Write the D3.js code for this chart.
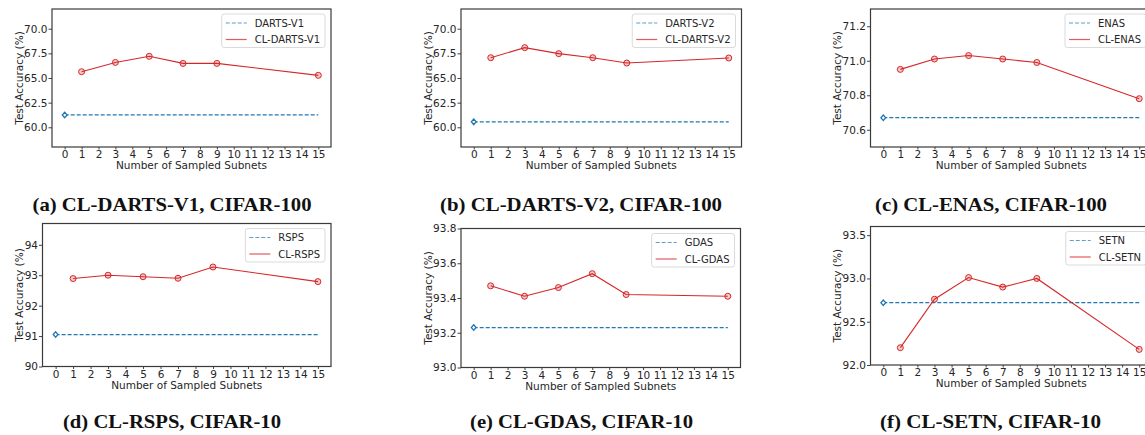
<!DOCTYPE html>
<html>
<head>
<meta charset="utf-8">
<script src="https://cdn.jsdelivr.net/npm/d3@7"></script>
<style>
  body { margin: 0; background: #fff; }
  svg { display: block; }
  .tick text { font-family: "DejaVu Sans", sans-serif; font-size: 10.5px; fill: #262626; }
  .tick line { stroke: #444; }
  .domain { display: none; }
</style>
</head>
<body>
<main></main>
<script>
// x positions of the sampled-subnet settings
const subnetTicks = d3.range(0, 16);
const clSubnets = [1, 3, 5, 7, 9, 15];

// CL-* accuracies at 1,3,5,7,9,15 sampled subnets
const clDartsV1 = [65.64, 66.58, 67.2, 66.48, 66.48, 65.27];
const clDartsV2 = [67.06, 68.08, 67.47, 67.06, 66.52, 67.03];
const clEnas = [70.95, 71.01, 71.03, 71.01, 70.99, 70.78];
const clRsps = [92.89, 93.0, 92.95, 92.9, 93.27, 92.79];
const clGdas = [93.47, 93.41, 93.46, 93.54, 93.42, 93.41];
const clSetn = [92.2, 92.76, 93.01, 92.9, 93.0, 92.18];

// baselines (0 sampled subnets)
const baseDartsV1 = 61.25;
const baseDartsV2 = 60.55;
const baseEnas = 70.67;
const baseRsps = 91.05;
const baseGdas = 93.23;
const baseSetn = 92.72;

const ticksDarts = [60, 62.5, 65, 67.5, 70];
const ticksEnas = [70.6, 70.8, 71.0, 71.2];
const ticksRsps = [90, 91, 92, 93, 94];
const ticksGdas = [93.0, 93.2, 93.4, 93.6, 93.8];
const ticksSetn = [92.0, 92.5, 93.0, 93.5];

const captions = [
    "(a) CL-DARTS-V1, CIFAR-100", "(b) CL-DARTS-V2, CIFAR-100", "(c) CL-ENAS, CIFAR-100",
    "(d) CL-RSPS, CIFAR-10", "(e) CL-GDAS, CIFAR-10", "(f) CL-SETN, CIFAR-10"
];

const red = "#d62728", blue = "#1f77b4";

const panels = [
    {base: baseDartsV1, cl: clDartsV1, names: ["DARTS-V1", "CL-DARTS-V1"], ticks: ticksDarts, fmt: ".1f", ylim: [58, 72],
     x0: 52, x1: 331, y0: 9, y1: 147, ylabX: 19, capX: 172, capY: 211, capW: 279},
    {base: baseDartsV2, cl: clDartsV2, names: ["DARTS-V2", "CL-DARTS-V2"], ticks: ticksDarts, fmt: ".1f", ylim: [58, 72],
     x0: 461, x1: 741.5, y0: 9, y1: 147, ylabX: 428, capX: 581, capY: 211, capW: 282},
    {base: baseEnas, cl: clEnas, names: ["ENAS", "CL-ENAS"], ticks: ticksEnas, fmt: ".1f", ylim: [70.5, 71.3],
     x0: 870.5, x1: 1152, y0: 9, y1: 147, ylabX: 837, capX: 991, capY: 211, capW: 232},
    {base: baseRsps, cl: clRsps, names: ["RSPS", "CL-RSPS"], ticks: ticksRsps, fmt: "d", ylim: [90, 94.7],
     x0: 42.5, x1: 331, y0: 223.5, y1: 366.5, ylabX: 19, capX: 172, capY: 428, capW: 218},
    {base: baseGdas, cl: clGdas, names: ["GDAS", "CL-GDAS"], ticks: ticksGdas, fmt: ".1f", ylim: [93.0, 93.8],
     x0: 461, x1: 740.5, y0: 228.5, y1: 367.5, ylabX: 428, capX: 581.5, capY: 428, capW: 223},
    {base: baseSetn, cl: clSetn, names: ["SETN", "CL-SETN"], ticks: ticksSetn, fmt: ".1f", ylim: [92.0, 93.6],
     x0: 870.5, x1: 1152, y0: 226.5, y1: 365, ylabX: 837, capX: 990.5, capY: 428, capW: 221}
];

const svg = d3.select("main").append("svg")
    .attr("width", 1145)
    .attr("height", 435);

const drawPanel = (p, i) => {
    const g = svg.append("g");

    const xScale = d3.scaleLinear().domain([-0.75, 15.75]).range([p.x0, p.x1]);
    const yScale = d3.scaleLinear().domain(p.ylim).range([p.y1, p.y0]);

    g.append("g")
        .attr("transform", "translate(0," + p.y1 + ")")
        .call(d3.axisBottom(xScale).tickValues(subnetTicks).tickFormat(d3.format("d")).tickSize(2.5).tickPadding(1.5));

    g.append("g")
        .attr("transform", "translate(" + p.x0 + ",0)")
        .call(d3.axisLeft(yScale).tickValues(p.ticks).tickFormat(d3.format(p.fmt)).tickSize(3.5).tickPadding(1));

    // baseline
    const line = d3.line().x(d => xScale(d[0])).y(d => yScale(d[1]));
    g.append("path")
        .datum([[0, p.base], [15, p.base]])
        .attr("d", line)
        .attr("fill", "none")
        .attr("stroke", blue)
        .attr("stroke-width", 1.2)
        .attr("stroke-dasharray", "4,2");

    g.append("path")
        .attr("d", d3.symbol(d3.symbolDiamond2, 16)())
        .attr("transform", "translate(" + xScale(0) + "," + yScale(p.base) + ") scale(0.95,1.1)")
        .attr("fill", "#fff")
        .attr("stroke", blue)
        .attr("stroke-width", 1.3);

    // CL curve
    const clData = clSubnets.map((s, k) => [s, p.cl[k]]);
    g.append("path")
        .datum(clData)
        .attr("d", line)
        .attr("fill", "none")
        .attr("stroke", red)
        .attr("stroke-width", 1.1);

    g.selectAll(".dot")
        .data(clData)
        .enter()
        .append("circle")
        .attr("cx", d => xScale(d[0]))
        .attr("cy", d => yScale(d[1]))
        .attr("r", 3)
        .attr("fill", "rgba(214,39,40,0.25)")
        .attr("stroke", red)
        .attr("stroke-width", 1);

    // frame
    g.append("rect")
        .attr("x", p.x0)
        .attr("y", p.y0)
        .attr("width", p.x1 - p.x0)
        .attr("height", p.y1 - p.y0)
        .attr("fill", "none")
        .attr("stroke", "#3a3a3a")
        .attr("stroke-width", 1.2);

    // axis labels
    g.append("text")
        .attr("x", (p.x0 + p.x1) / 2)
        .attr("y", p.y1 + 22)
        .attr("text-anchor", "middle")
        .style("font-family", "DejaVu Sans, sans-serif")
        .style("font-size", "10.5px")
        .attr("fill", "#262626")
        .text("Number of Sampled Subnets");

    g.append("text")
        .attr("transform", "translate(" + p.ylabX + "," + (p.y0 + p.y1) / 2 + ") rotate(-90)")
        .attr("dy", "0.35em")
        .attr("text-anchor", "middle")
        .style("font-family", "DejaVu Sans, sans-serif")
        .style("font-size", "10.5px")
        .attr("fill", "#262626")
        .text("Test Accuracy (%)");

    // legend
    const leg = g.append("g");
    const box = leg.append("rect");
    const labels = p.names.map((name, k) => leg.append("text")
        .attr("y", p.y0 + 14 + k * 16.5)
        .attr("dy", "0.35em")
        .style("font-family", "DejaVu Sans, sans-serif")
        .style("font-size", "10px")
        .attr("fill", "#262626")
        .text(name));
    const textW = d3.max(labels, t => t.node().getComputedTextLength());
    const boxRight = p.x1 - 6;
    const textX = boxRight - 5 - textW;
    labels.forEach(t => t.attr("x", textX));
    box.attr("x", textX - 33).attr("y", p.y0 + 5)
        .attr("width", textW + 38).attr("height", 33.5)
        .attr("rx", 2.5)
        .attr("fill", "rgba(255,255,255,0.85)")
        .attr("stroke", "#d0d0d0")
        .attr("stroke-width", 0.8);
    leg.append("line")
        .attr("x1", textX - 29).attr("x2", textX - 8)
        .attr("y1", p.y0 + 14).attr("y2", p.y0 + 14)
        .attr("stroke", blue).attr("stroke-width", 1.2).attr("stroke-dasharray", "4,2")
        .attr("opacity", 0.7);
    leg.append("line")
        .attr("x1", textX - 29).attr("x2", textX - 8)
        .attr("y1", p.y0 + 30.5).attr("y2", p.y0 + 30.5)
        .attr("stroke", red).attr("stroke-width", 1.2)
        .attr("opacity", 0.75);

    // caption
    svg.append("text")
        .attr("x", p.capX)
        .attr("y", p.capY)
        .attr("text-anchor", "middle")
        .attr("textLength", p.capW)
        .attr("lengthAdjust", "spacingAndGlyphs")
        .style("font-family", "Liberation Serif, serif")
        .style("font-weight", "bold")
        .style("font-size", "19px")
        .attr("fill", "#111")
        .text(captions[i]);
};

panels.forEach(drawPanel);
</script>
</body>
</html>
